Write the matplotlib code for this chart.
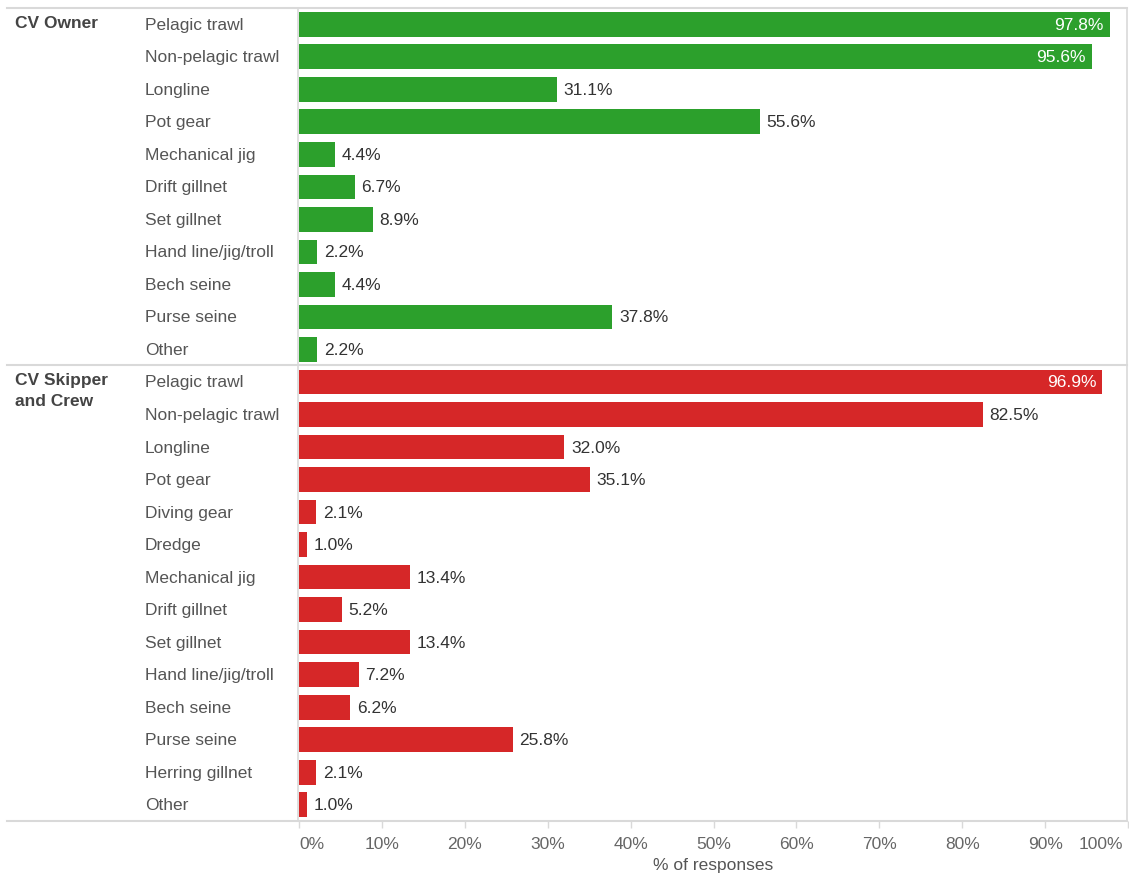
import matplotlib.pyplot as plt
import matplotlib.transforms as mtransforms
from matplotlib.lines import Line2D

plt.rcParams['font.family'] = ['Liberation Sans', 'DejaVu Sans']

# data
owner_cats = ["Pelagic trawl", "Non-pelagic trawl", "Longline", "Pot gear", "Mechanical jig",
              "Drift gillnet", "Set gillnet", "Hand line/jig/troll", "Bech seine", "Purse seine", "Other"]
owner_vals = [97.8, 95.6, 31.1, 55.6, 4.4, 6.7, 8.9, 2.2, 4.4, 37.8, 2.2]

crew_cats = ["Pelagic trawl", "Non-pelagic trawl", "Longline", "Pot gear", "Diving gear", "Dredge",
             "Mechanical jig", "Drift gillnet", "Set gillnet", "Hand line/jig/troll", "Bech seine",
             "Purse seine", "Herring gillnet", "Other"]
crew_vals = [96.9, 82.5, 32.0, 35.1, 2.1, 1.0, 13.4, 5.2, 13.4, 7.2, 6.2, 25.8, 2.1, 1.0]

groups = ["CV Owner", "CV Skipper\nand Crew"]
xticks = [0, 10, 20, 30, 40, 50, 60, 70, 80, 90, 100]

green = "#2ca02c"
red = "#d62728"
grid_c = "#d9d9d9"

W, H = 1129, 878
fig = plt.figure(figsize=(W / 100, H / 100), dpi=100)
x0, x1 = 299 / W, 1128 / W
y_top, y_bot = 1 - 9 / H, 1 - 822 / H
ax = fig.add_axes([x0, y_bot, x1 - x0, y_top - y_bot])

n1, n2 = len(owner_cats), len(crew_cats)
ntot = n1 + n2
ax.set_xlim(0, 100)
ax.set_ylim(ntot - 0.5, -0.5)

# x in figure fraction, y in data rows
lab_tr = mtransforms.blended_transform_factory(fig.transFigure, ax.transData)

def draw_group(cats, vals, start, color, gname):
    ys = [start + i for i in range(len(cats))]
    ax.barh(ys, vals, height=0.76, color=color)
    for y, c, v in zip(ys, cats, vals):
        ax.text(145 / W, y, c, transform=lab_tr, fontsize=12.5, color="#555555",
                va="center", ha="left", clip_on=False)
        if v > 90:
            ax.text(v - 0.7, y, f"{v:.1f}%", color="white", fontsize=12.5, va="center", ha="right")
        else:
            ax.text(v + 0.8, y, f"{v:.1f}%", color="#333333", fontsize=12.5, va="center", ha="left")
    ax.text(15 / W, start - 0.3, gname, transform=lab_tr, fontsize=12.5, color="#444444",
            fontweight="bold", va="top", ha="left", clip_on=False, linespacing=1.45)

draw_group(owner_cats, owner_vals, 0, green, groups[0])
draw_group(crew_cats, crew_vals, n1, red, groups[1])

for s in ax.spines.values():
    s.set_visible(False)
ax.set_yticks([])
ax.set_xticks(xticks)
ax.set_xticklabels([f"{t}%" for t in xticks], fontsize=12.5, color="#666666")
ax.tick_params(axis="x", length=5, color=grid_c, width=1, pad=6)
labs = ax.get_xticklabels()
labs[0].set_ha("left")
labs[-1].set_ha("right")
labs[-1].set_transform(labs[-1].get_transform() +
                       mtransforms.ScaledTranslation(-5 / 100, 0, fig.dpi_scale_trans))
ax.set_xlabel("% of responses", fontsize=12.5, color="#555555", labelpad=4)

# frame lines, figure pixels
def hline(y, xa=7, xb=1127):
    fig.add_artist(Line2D([xa / W, xb / W], [1 - y / H, 1 - y / H], transform=fig.transFigure,
                          color=grid_c, lw=1.5))

def vline(x, ya=9, yb=822):
    fig.add_artist(Line2D([x / W, x / W], [1 - ya / H, 1 - yb / H], transform=fig.transFigure,
                          color=grid_c, lw=1.2))

hline(9)
hline(366)
hline(822)
vline(298)
vline(1127)

fig.savefig("out.png", dpi=100)
